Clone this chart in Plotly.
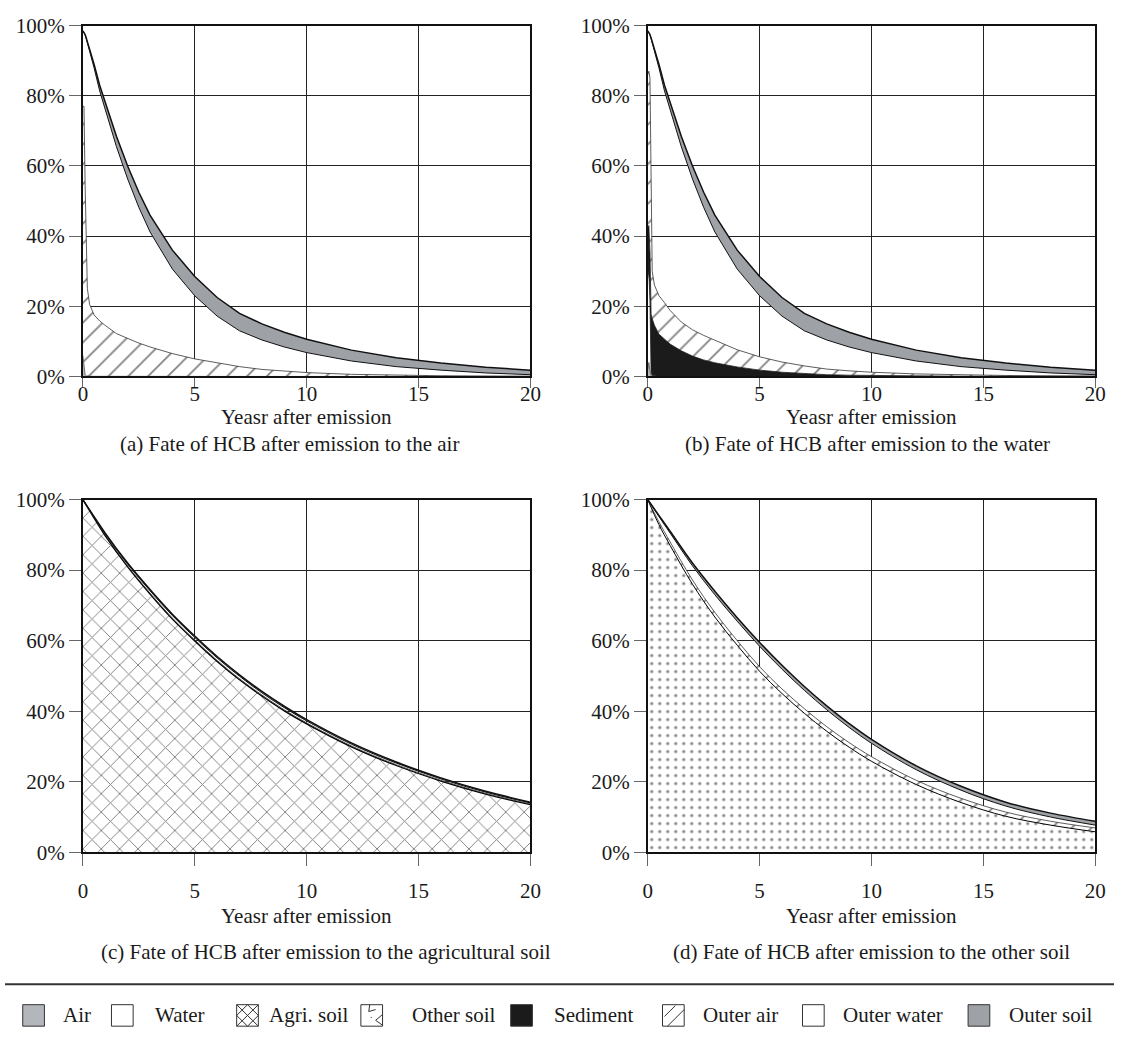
import plotly.graph_objects as go

FONT = "Liberation Serif, Times New Roman, serif"
W, H = 1125, 1046

# ---------------- data (percent of emitted HCB) ----------------
# (a) emission to the air
t_ab = [0, 0.05, 0.1, 0.15, 0.2, 0.3, 0.5, 0.75, 1, 1.5, 2, 2.5, 3, 4, 5, 6, 7, 8, 9, 10, 12, 14, 16, 18, 20]
a_air = [6, 3, 0.5, 0.2, 0.1, 0.05, 0.03, 0.02, 0.02, 0.01, 0.01, 0.01, 0.01, 0.01, 0, 0, 0, 0, 0, 0, 0, 0, 0, 0, 0]
a_outer_air = [71, 74, 54, 33, 25, 20.5, 17.5, 15.8, 14.5, 12.2, 10.8, 9.5, 8.4, 6.5, 5, 3.8, 2.8, 2, 1.5, 1.1, 0.6, 0.35, 0.2, 0.12, 0.08]
a_outer_water = [21.5, 20.95, 42.9, 63.1, 70.1, 72.25, 70.47, 65.58, 61.4, 53.3, 45.5, 38.7, 32.8, 24.1, 18.0, 13.4, 10.2, 8.4, 6.9, 5.7, 3.8, 2.45, 1.6, 0.88, 0.42]
a_outer_soil = [0, 0.05, 0.1, 0.2, 0.3, 0.5, 1.0, 1.6, 2.1, 3.0, 3.7, 4.3, 4.8, 5.4, 5.5, 5.3, 5.0, 4.6, 4.2, 3.8, 3.1, 2.5, 2.0, 1.6, 1.3]

# (b) emission to the water
b_air = [2, 4, 1.5, 0.3, 0.05, 0.02, 0.01, 0, 0, 0, 0, 0, 0, 0, 0, 0, 0, 0, 0, 0, 0, 0, 0, 0, 0]
b_water = [26, 26, 20, 1, 0.2, 0.1, 0.05, 0.03, 0.02, 0.01, 0, 0, 0, 0, 0, 0, 0, 0, 0, 0, 0, 0, 0, 0, 0]
b_sediment = [14, 13, 14, 16.5, 16.2, 14.5, 12, 10.5, 9.2, 7.3, 5.8, 4.7, 3.9, 2.7, 1.8, 1.2, 0.8, 0.5, 0.35, 0.25, 0.12, 0.06, 0.03, 0.02, 0.01]
b_outer_air = [44, 44, 49.5, 37.2, 13.5, 11.4, 11, 10.5, 9.6, 8.2, 7.5, 7, 6.5, 4.9, 3.8, 2.9, 2.2, 1.6, 1.25, 0.95, 0.6, 0.38, 0.24, 0.15, 0.1]
b_outer_water = [12.5, 10.95, 12.4, 41.3, 65.25, 66.78, 64.94, 60.37, 57.08, 49.99, 43.0, 36.5, 30.8, 23.0, 17.4, 13.1, 10.0, 8.3, 6.8, 5.6, 3.68, 2.36, 1.53, 0.83, 0.39]
b_outer_soil = [0, 0.05, 0.1, 0.2, 0.3, 0.5, 1.0, 1.6, 2.1, 3.0, 3.7, 4.3, 4.8, 5.4, 5.5, 5.3, 5.0, 4.6, 4.2, 3.8, 3.1, 2.5, 2.0, 1.6, 1.3]

# (c) emission to the agricultural soil
t_c = [0, 1, 2, 3, 4, 5, 6, 7, 8, 9, 10, 12, 14, 16, 18, 20]
c_agri_soil = [100, 89.7, 80.9, 73.2, 66.1, 59.9, 54.1, 48.9, 44.3, 40.1, 36.4, 29.9, 24.6, 20.2, 16.5, 13.5]
c_outer_air = [0, 0.3, 0.3, 0.3, 0.3, 0.3, 0.3, 0.3, 0.3, 0.3, 0.3, 0.25, 0.25, 0.2, 0.2, 0.2]
c_outer_water = [0, 0.3, 0.5, 0.65, 0.7, 0.7, 0.7, 0.7, 0.6, 0.6, 0.55, 0.5, 0.45, 0.4, 0.35, 0.3]
c_outer_soil = [0, 0.2, 0.3, 0.35, 0.4, 0.4, 0.4, 0.4, 0.4, 0.4, 0.35, 0.35, 0.3, 0.3, 0.25, 0.2]

# (d) emission to the other soil
t_d = [0, 0.5, 1, 2, 3, 4, 5, 6, 7, 8, 9, 10, 12, 14, 16, 18, 20]
d_other_soil = [100, 92.9, 87, 76, 66.7, 58.7, 51.3, 45, 39.4, 34.3, 29.8, 25.8, 19.2, 14.1, 10.2, 7.7, 5.8]
d_outer_air = [0, 0.8, 1, 1.2, 1.3, 1.3, 1.3, 1.3, 1.3, 1.3, 1.3, 1.3, 1.2, 1.2, 1.2, 1.1, 1.1]
d_outer_water = [0, 1.5, 2.5, 4, 5, 5.5, 5.8, 5.6, 5.2, 4.8, 4.3, 3.8, 3.0, 2.3, 1.7, 1.2, 0.8]
d_outer_soil = [0, 0.3, 0.5, 0.8, 1, 1, 1.1, 1.1, 1.1, 1.1, 1.1, 1.1, 1.1, 1.1, 1.1, 1.1, 1.1]

x_ticks = [0, 5, 10, 15, 20]
y_ticks = [0, 20, 40, 60, 80, 100]
y_tick_text = ["0%", "20%", "40%", "60%", "80%", "100%"]
x_title = "Yeasr after emission"
captions = ["(a) Fate of HCB after emission to the air",
            "(b) Fate of HCB after emission to the water",
            "(c) Fate of HCB after emission to the agricultural soil",
            "(d) Fate of HCB after emission to the other soil"]
legend_names = ["Air", "Water", "Agri. soil", "Other soil", "Sediment",
                "Outer air", "Outer water", "Outer soil"]

# ---------------- styles ----------------
AIR_GRAY = "#b3b7bc"
SOIL_GRAY = "#9ea2a7"
SED_BLACK = "#1b1b1b"
TXT = "#1a1a1a"
STYLE = {
    "Air": dict(fillcolor=AIR_GRAY, line=dict(color="#555", width=0.8)),
    "Water": dict(fillcolor="rgba(255,255,255,0)", line=dict(color="#222", width=0.8)),
    "Agri. soil": dict(fillcolor="white", line=dict(color="#000", width=1.3),
                       fillpattern=dict(shape="x", fgcolor="#000", bgcolor="white", size=13, solidity=0.14)),
    "Other soil": dict(fillcolor="white", line=dict(color="#000", width=1.0),
                       fillpattern=dict(shape=".", fgcolor="#000", bgcolor="white", size=8, solidity=0.12)),
    "Sediment": dict(fillcolor=SED_BLACK, line=dict(color="#111", width=0.8)),
    "Outer air": dict(fillcolor="white", line=dict(color="#333", width=0.8),
                      fillpattern=dict(shape="/", fgcolor="#000", bgcolor="white", size=14, solidity=0.12)),
    "Outer water": dict(fillcolor="rgba(255,255,255,0)", line=dict(color="#111", width=1.0)),
    "Outer soil": dict(fillcolor=SOIL_GRAY, line=dict(color="#111", width=1.5)),
}

# pixel layout of the panels
PX_LEFT = [(79, 533), (652, 1106)]
PX_TOP = [(14, 373), (499, 860)]
TICK_LEN = [10, 12]
TICK_STANDOFF = [-13, 7]


def xdom(i):
    a, b = PX_LEFT[i]
    return [a / W, b / W]


def ydom(i):
    a, b = PX_TOP[i]
    return [(H - b) / H, (H - a) / H]


fig = go.Figure()

panels = [
    (t_ab, [("Air", a_air), ("Outer air", a_outer_air), ("Outer water", a_outer_water), ("Outer soil", a_outer_soil)]),
    (t_ab, [("Air", b_air), ("Water", b_water), ("Sediment", b_sediment), ("Outer air", b_outer_air),
            ("Outer water", b_outer_water), ("Outer soil", b_outer_soil)]),
    (t_c, [("Agri. soil", c_agri_soil), ("Outer air", c_outer_air), ("Outer water", c_outer_water),
           ("Outer soil", c_outer_soil)]),
    (t_d, [("Other soil", d_other_soil), ("Outer air", d_outer_air), ("Outer water", d_outer_water),
           ("Outer soil", d_outer_soil)]),
]

for k, (t, series) in enumerate(panels):
    ax = "" if k == 0 else str(k + 1)
    shape = "linear" if k < 2 else "spline"
    for name, vals in series:
        st = STYLE[name]
        kw = dict(fillcolor=st["fillcolor"], line=dict(shape=shape, **st["line"]))
        if "fillpattern" in st:
            kw["fillpattern"] = st["fillpattern"]
        fig.add_trace(go.Scatter(x=t, y=vals, mode="lines", stackgroup=f"p{k}", name=name,
                                 xaxis="x" + ax, yaxis="y" + ax, showlegend=False,
                                 hoverinfo="skip", **kw))

axis_common = dict(showline=True, mirror=True, linecolor="#111", linewidth=1.8,
                   showgrid=True, gridcolor="#222", gridwidth=1, zeroline=False,
                   ticks="outside", tickwidth=1, tickcolor="#666",
                   tickfont=dict(family=FONT, size=21, color=TXT), layer="above traces")

layout = dict(width=W, height=H, margin=dict(l=0, r=0, t=0, b=0),
              paper_bgcolor="white", plot_bgcolor="white", showlegend=False,
              font=dict(family=FONT, size=21, color=TXT))
for k in range(4):
    col, row = k % 2, k // 2
    ax = "" if k == 0 else str(k + 1)
    layout["xaxis" + ax] = dict(domain=xdom(col), range=[0, 20], tickvals=x_ticks,
                                ticktext=[str(v) for v in x_ticks], anchor="y" + ax,
                                ticklen=TICK_LEN[row], ticklabelstandoff=TICK_STANDOFF[row],
                                **axis_common)
    layout["yaxis" + ax] = dict(domain=ydom(row), range=[0, 100], tickvals=y_ticks,
                                ticktext=y_tick_text, anchor="x" + ax, ticklen=12, **axis_common)
fig.update_layout(**layout)

# axis titles and captions
title_y = [414, 925]
cap_y = [442, 962]
cap_left = [[115, 688], [95, 676]]
ann = []
for k in range(4):
    col, row = k % 2, k // 2
    cx = (PX_LEFT[col][0] + PX_LEFT[col][1]) / 2
    ann.append(dict(x=cx / W, y=(H - title_y[row]) / H, xref="paper", yref="paper", text=x_title,
                    showarrow=False, xanchor="center", yanchor="middle",
                    font=dict(family=FONT, size=21, color=TXT)))
    ann.append(dict(x=cap_left[row][col] / W, y=(H - cap_y[row]) / H, xref="paper", yref="paper",
                    text=captions[k], showarrow=False, xanchor="left", yanchor="middle",
                    font=dict(family=FONT, size=21, color=TXT)))

# legend (drawn manually)
SEP_Y = 995
LEG_Y = 1027
SW = 22
sw_left = [18, 108, 235, 361, 513, 667, 809, 977]
txt_left = [57, 150, 266, 411, 555, 706, 848, 1016]
sw_fill = ["Air", "Water", "Agri. soil", "Other soil", "Sediment", "Outer air", "Outer water", "Outer soil"]
fillmap = {"Air": AIR_GRAY, "Sediment": SED_BLACK, "Outer soil": SOIL_GRAY}


def P(px, py):
    return f"{px / W:.5f},{(H - py) / H:.5f}"


shapes = [dict(type="line", xref="paper", yref="paper", x0=0, x1=1, y0=(H - SEP_Y) / H, y1=(H - SEP_Y) / H,
               line=dict(color="#333", width=2))]
for i, name in enumerate(sw_fill):
    x0 = sw_left[i]
    y0 = LEG_Y - SW / 2
    x1, y1 = x0 + SW, y0 + SW
    shapes.append(dict(type="rect", xref="paper", yref="paper", x0=x0 / W, x1=x1 / W,
                       y0=(H - y1) / H, y1=(H - y0) / H,
                       fillcolor=fillmap.get(name, "white"), line=dict(color="#333", width=1)))
    d = None
    if name == "Agri. soil":
        mx, my = x0 + SW / 2, y0 + SW / 2
        d = (f"M{P(x0, y0)} L{P(x1, y1)} M{P(x1, y0)} L{P(x0, y1)} "
             f"M{P(mx, y0)} L{P(x1, my)} L{P(mx, y1)} L{P(x0, my)} Z")
    elif name == "Other soil":
        d = (f"M{P(x0 + 9, y0)} L{P(x0 + 8, y0 + 7)} L{P(x0 + 15, y0 + 5)} "
             f"M{P(x1, y0 + 10)} L{P(x0 + 15, y0 + 16)} L{P(x1, y0 + 21)} "
             f"M{P(x0 + 10, y0 + 13)} L{P(x0 + 11, y0 + 13)}")
    elif name == "Outer air":
        d = (f"M{P(x0 + 2, y0 + 12)} L{P(x0 + 13, y0 + 1)} "
             f"M{P(x0 + 5, y1)} L{P(x1, y0 + 5)}")
    if d:
        shapes.append(dict(type="path", xref="paper", yref="paper", path=d,
                           line=dict(color="#333", width=1)))
    ann.append(dict(x=txt_left[i] / W, y=(H - LEG_Y) / H, xref="paper", yref="paper",
                    text=legend_names[i], showarrow=False, xanchor="left", yanchor="middle",
                    font=dict(family=FONT, size=21, color=TXT)))

fig.update_layout(annotations=ann, shapes=shapes)
fig.write_html("out.html")
